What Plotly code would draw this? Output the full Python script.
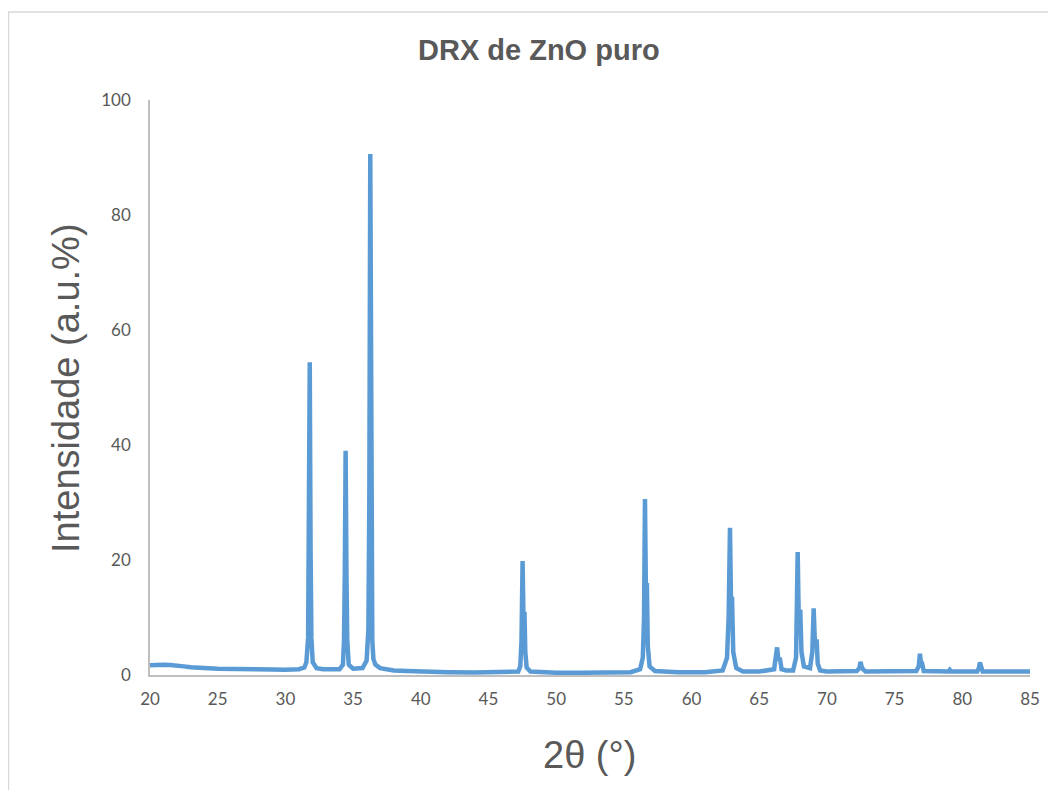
import plotly.graph_objects as go

two_theta = [
    20.0, 20.5, 21.0, 21.5, 22.0, 22.5, 23.0, 23.5, 24.0, 25.0, 26.0, 27.0, 28.0, 29.0, 30.0, 31.0, 31.4,
    31.55, 31.68, 31.74, 31.8, 31.86, 31.92, 32.02, 32.3,
    32.8, 33.5, 34.0, 34.25,
    34.33, 34.39, 34.45, 34.51, 34.57, 34.68, 35.0, 35.7, 36.0,
    36.13, 36.2, 36.27, 36.33, 36.37, 36.42, 36.5, 36.65, 37.0, 38.0, 39.0, 40.0, 42.0, 44.0, 46.0, 47.2, 47.35,
    47.44, 47.52, 47.6, 47.66, 47.72, 47.82, 48.1, 50.0, 52.0, 54.0, 55.5, 56.2, 56.4,
    56.49, 56.56, 56.64, 56.7, 56.77, 56.9, 57.3, 59.0, 61.0, 62.3, 62.62,
    62.74, 62.84, 62.93, 62.99, 63.08, 63.3, 63.8, 65.0, 66.1, 66.24,
    66.32, 66.42, 66.52, 66.65, 67.0, 67.5, 67.72,
    67.84, 67.93, 68.03, 68.12, 68.3, 68.75, 68.92,
    69.02, 69.12, 69.24, 69.32, 69.5, 70.0, 72.2, 72.4,
    72.48, 72.56, 72.66, 72.85, 74.0, 76.6, 76.78,
    76.87, 76.95, 77.03, 77.15, 78.0, 79.0, 79.08, 79.2, 81.1, 81.22,
    81.3, 81.38, 81.5, 83.0, 85.0,
]
intensity = [
    1.7, 1.8, 1.8, 1.75, 1.7, 1.5, 1.35, 1.2, 1.2, 1.1, 1.1, 1.05, 1.0, 0.95, 0.9, 1.0, 1.3,
    2.2, 6.5, 22.0, 54.4, 22.0, 6.5, 2.2, 1.2,
    1.0, 0.9, 1.0, 1.8,
    6.0, 18.0, 39.0, 18.0, 6.0, 1.8, 1.1, 1.2, 2.5,
    8.0, 30.0, 90.6, 54.0, 20.0, 6.0, 2.8, 1.8, 1.2, 0.8, 0.7, 0.6, 0.5, 0.45, 0.45, 0.6, 1.5,
    6.0, 19.8, 8.0, 11.0, 4.0, 1.3, 0.6, 0.4, 0.4, 0.4, 0.5, 1.0, 3.0,
    10.0, 30.6, 12.0, 16.0, 5.0, 1.5, 0.7, 0.5, 0.5, 0.8, 3.0,
    10.0, 25.6, 10.0, 13.6, 4.0, 1.2, 0.6, 0.6, 1.0, 3.0,
    4.8, 2.5, 3.0, 1.0, 0.8, 0.8, 3.0,
    21.4, 8.0, 11.4, 4.0, 1.5, 1.2, 4.0,
    11.6, 5.0, 6.2, 2.0, 0.8, 0.6, 0.7, 1.2,
    2.3, 1.5, 1.0, 0.6, 0.6, 0.7, 1.5,
    3.7, 2.0, 2.0, 0.7, 0.6, 0.6, 0.9, 0.6, 0.6, 1.2,
    2.2, 1.2, 0.6, 0.6, 0.6,
]

x_ticks = [20, 25, 30, 35, 40, 45, 50, 55, 60, 65, 70, 75, 80, 85]
y_ticks = [0, 20, 40, 60, 80, 100]

fig = go.Figure()
fig.add_trace(go.Scatter(
    x=two_theta, y=intensity, mode="lines",
    line=dict(color="#5B9BD5", width=4.5, shape="linear"),
    showlegend=False, hoverinfo="skip",
))

tick_font = dict(family="Lato, Open Sans, sans-serif", size=17, color="#595959")

# page body has an 8px margin, so the figure is shifted; sizes below compensate
fig.update_layout(
    width=1040, height=782,
    margin=dict(l=142, r=18, t=92, b=115, autoexpand=False),
    paper_bgcolor="white", plot_bgcolor="white",
    showlegend=False,
    xaxis=dict(
        range=[20, 85], tickvals=x_ticks, ticktext=[str(v) for v in x_ticks],
        showgrid=False, zeroline=False, showline=True, linecolor="#BFBFBF", linewidth=1.5,
        ticks="", tickfont=tick_font, ticklabelstandoff=8, automargin=False,
    ),
    yaxis=dict(
        range=[0, 100], tickvals=y_ticks, ticktext=[str(v) for v in y_ticks],
        showgrid=False, zeroline=False, showline=True, linecolor="#BFBFBF", linewidth=1.5,
        ticks="", tickfont=tick_font, ticklabelstandoff=14, automargin=False,
    ),
    annotations=[
        dict(text="<b>DRX de ZnO puro</b>", xref="paper", yref="paper",
             x=(539 - 150) / 880, y=(675 - 50) / 575, xanchor="center", yanchor="middle",
             showarrow=False,
             font=dict(family="Liberation Sans, Arial", size=29, color="#595959")),
        dict(text="Intensidade (a.u.%)", xref="paper", yref="paper",
             x=(66 - 150) / 880, y=(675 - 388) / 575, xanchor="center", yanchor="middle",
             textangle=-90, showarrow=False,
             font=dict(family="Liberation Sans, Arial", size=38, color="#595959")),
        dict(text="2θ (°)", xref="paper", yref="paper",
             x=(589 - 150) / 880, y=(675 - 755) / 575, xanchor="center", yanchor="middle",
             showarrow=False,
             font=dict(family="Liberation Sans, Arial", size=38, color="#595959")),
    ],
    shapes=[
        dict(type="rect", xref="paper", yref="paper",
             x0=(8.5 - 150) / 880, x1=(1070 - 150) / 880,
             y0=(675 - 810) / 575, y1=(675 - 12) / 575,
             line=dict(color="#D9D9D9", width=1.5), fillcolor="rgba(0,0,0,0)", layer="below"),
    ],
)

fig.write_html("out.html")
